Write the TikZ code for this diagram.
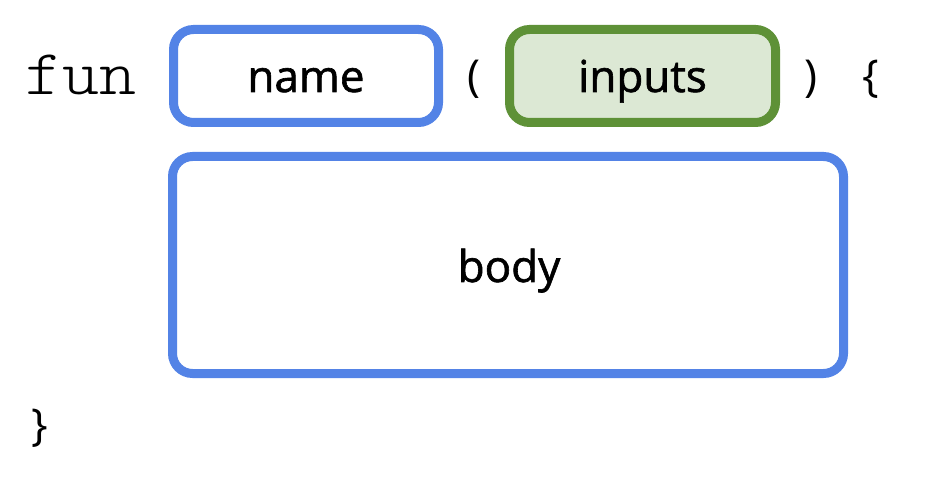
\documentclass[tikz,border=0pt]{standalone}
\usepackage{fontspec}
\setmainfont{Open Sans}
\newfontfamily\codefont{Latin Modern Mono Light}
\definecolor{bblue}{HTML}{5383E6}
\definecolor{ggreen}{HTML}{5E9137}
\definecolor{gfill}{HTML}{DCE8D4}
\tikzset{
  boxbase/.style={draw, line width=9pt, rounded corners=20pt, inner sep=0pt},
  bluebox/.style={boxbase, draw=bblue, fill=white},
  greenbox/.style={boxbase, draw=ggreen, fill=gfill},
  lbl/.style={anchor=base, inner sep=0pt, font=\fontsize{44}{50}\selectfont\addfontfeatures{FakeBold=1.4}},
  punct/.style={anchor=base, inner sep=0pt, font=\fontsize{44}{50}\selectfont},
  code/.style={anchor=base west, inner sep=0pt, font=\codefont\fontsize{64}{70}\selectfont}
}
\begin{document}
\begin{tikzpicture}[x=1pt,y=-1pt]
\useasboundingbox (0,0) rectangle (926,486);
\node[code] (fun) at (25,95) {\scalebox{1.1}[1]{fun}};
\node[bluebox, minimum width=265pt, minimum height=93pt] (name) at (306,76) {};
\node[lbl] (nametxt) at (306,92) {name};
\node[punct] (lpar) at (474,92) {(};
\node[greenbox, minimum width=266pt, minimum height=93pt] (inputs) at (642.5,76) {};
\node[lbl] (inputstxt) at (642.5,92) {inputs};
\node[punct] (rpar) at (811,92) {)};
\node[punct] (lbrace) at (871,92) {\{};
\node[bluebox, minimum width=671pt, minimum height=217pt] (body) at (508,265) {};
\node[lbl] (bodytxt) at (509,282) {body};
\node[punct] (rbrace) at (40,440) {\}};
\end{tikzpicture}
\end{document}
